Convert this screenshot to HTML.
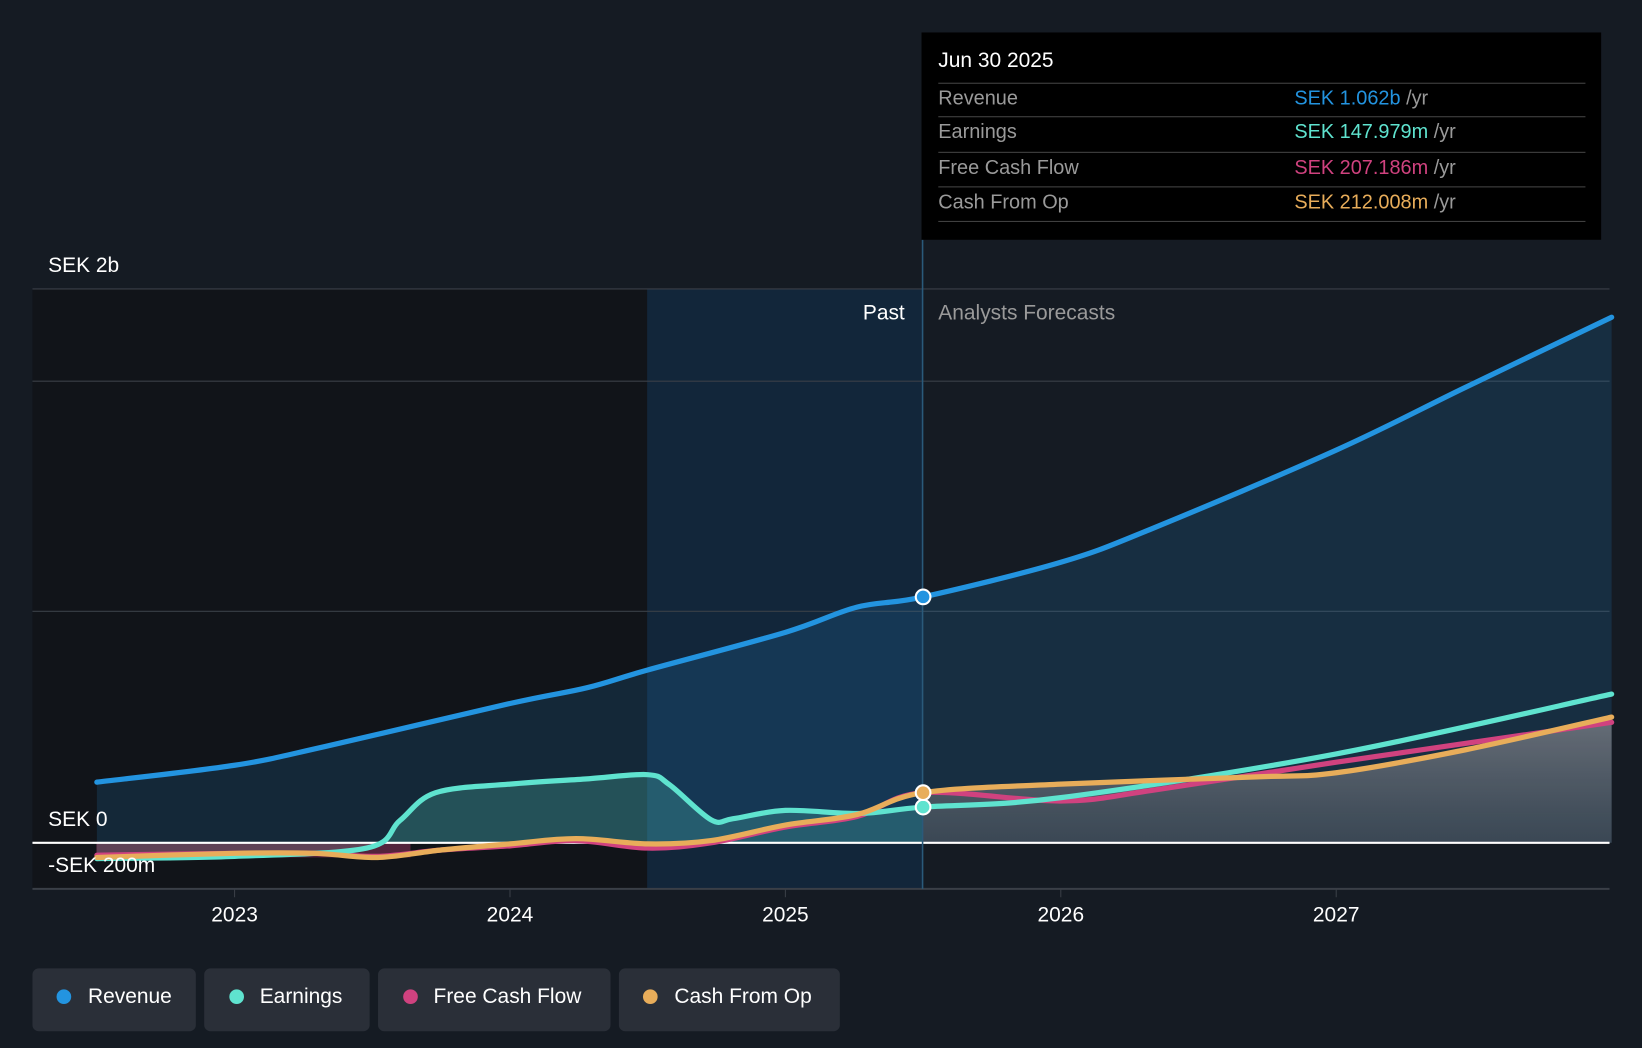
<!DOCTYPE html>
<html><head><meta charset="utf-8">
<style>
html,body{margin:0;padding:0;background:#151b23;width:1642px;height:1048px;overflow:hidden;font-family:"Liberation Sans",sans-serif}
#wrap{position:absolute;left:0;top:0;width:1568px;height:1001px;transform:scale(1.04719,1.04695);transform-origin:0 0}
.tt{position:absolute;left:880px;top:31px;width:649px;height:198px;background:#000}
.tt .row{position:absolute;left:16px;width:618px;border-top:1px solid #444;height:32px;font-size:19px;color:#9a9a9a;line-height:30px}
.tt .v{position:absolute;left:340px;top:0}
.leg{position:absolute;top:925px;height:60px;background:#2a2f38;border-radius:6px;color:#fff;font-size:20px;line-height:54px}
.leg i{position:absolute;top:20px;width:14px;height:14px;border-radius:50%}
.leg span{position:absolute;top:0}
</style></head><body>
<div id="wrap">
<svg id="chart" width="1568" height="1001" style="position:absolute;left:0;top:0"></svg>
<div class="tt">
 <div style="position:absolute;left:16px;top:16px;color:#fff;font-size:20px">Jun 30 2025</div>
 <div class="row" style="top:48px">Revenue<span class="v" style="color:#2394e0">SEK 1.062b <span style="color:#9a9a9a">/yr</span></span></div>
 <div class="row" style="top:80px">Earnings<span class="v" style="color:#5fe3cf">SEK 147.979m <span style="color:#9a9a9a">/yr</span></span></div>
 <div class="row" style="top:114px">Free Cash Flow<span class="v" style="color:#d0427f">SEK 207.186m <span style="color:#9a9a9a">/yr</span></span></div>
 <div class="row" style="top:147px;border-bottom:1px solid #444">Cash From Op<span class="v" style="color:#e8ad5a">SEK 212.008m <span style="color:#9a9a9a">/yr</span></span></div>
</div>
<div class="leg" style="left:31px;width:156px"><i style="left:23px;background:#2394e0"></i><span style="left:53px">Revenue</span></div>
<div class="leg" style="left:195px;width:158px"><i style="left:24px;background:#5fe3cf"></i><span style="left:53px">Earnings</span></div>
<div class="leg" style="left:361px;width:222px"><i style="left:24px;background:#d0427f"></i><span style="left:53px">Free Cash Flow</span></div>
<div class="leg" style="left:591px;width:211px"><i style="left:23px;background:#e8ad5a"></i><span style="left:53px">Cash From Op</span></div>
</div>
<script>
const xTicks=[2023,2024,2025,2026,2027];
const revYears=[2022.5,2023,2023.33,2024,2024.28,2024.5,2025,2025.26,2025.5,2026,2026.33,2027,2027.47,2028];
const revVals=[219,280,348,503,560,624,760,851,888,1013,1134,1418,1645,1898];
const earnYears=[2022.5,2023,2023.48,2023.6,2023.73,2024,2024.28,2024.5,2024.58,2024.73,2024.81,2025,2025.27,2025.5,2026,2027,2028];
const earnVals=[-57,-49,-19,80,181,212,231,246,209,83,87,117,106,129,163,321,537];
const fcfYears=[2022.5,2023,2023.29,2023.52,2023.75,2024,2024.24,2024.5,2024.73,2025,2025.26,2025.5,2026,2026.33,2027,2028];
const fcfVals=[-45,-38,-38,-49,-26,-11,8,-19,0,57,95,181,151,189,291,435];
const cfoYears=[2022.5,2023,2023.29,2023.52,2023.75,2024,2024.24,2024.5,2024.73,2025,2025.26,2025.5,2026,2026.71,2027,2027.47,2028];
const cfoVals=[-53,-38,-38,-53,-26,-4,15,-4,8,64,102,181,212,238,253,336,454];
const yGridVals=[2000,1667,836,0];
const NS='http://www.w3.org/2000/svg';
const svg=document.getElementById('chart');
const X=y=>224+(y-2023)*263;
const Y=v=>805-v*0.2645;
function el(t,a,p){const e=document.createElementNS(NS,t);for(const k in a)e.setAttribute(k,a[k]);(p||svg).appendChild(e);return e;}
function path(xs,vs){const p=xs.map((x,i)=>[X(x),Y(vs[i])]);let d='M'+p[0][0]+','+p[0][1];
 for(let i=0;i<p.length-1;i++){const p0=p[i-1]||p[i],p1=p[i],p2=p[i+1],p3=p[i+2]||p2;
 const c1=[p1[0]+(p2[0]-p0[0])/6,p1[1]+(p2[1]-p0[1])/6],c2=[p2[0]-(p3[0]-p1[0])/6,p2[1]-(p3[1]-p1[1])/6];
 d+=`C${c1[0]},${c1[1]} ${c2[0]},${c2[1]} ${p2[0]},${p2[1]}`;}return d;}
function area(xs,vs){return path(xs,vs)+`L${X(xs[xs.length-1])},${Y(0)}L${X(xs[0])},${Y(0)}Z`;}
const defs=el('defs',{});
const g=el('linearGradient',{id:'fg',x1:0,y1:0,x2:0,y2:1},defs);
el('stop',{offset:0,'stop-color':'#8a8a90','stop-opacity':0.7},g);el('stop',{offset:1,'stop-color':'#555a62','stop-opacity':0.5},g);
const cp=el('clipPath',{id:'pc'},defs);el('rect',{x:0,y:0,width:881,height:1001},cp);
const cf=el('clipPath',{id:'fc'},defs);el('rect',{x:881,y:0,width:700,height:1001},cf);
let r=el('rect',{x:31,y:276,width:587,height:573,fill:'#111419'});
r=el('rect',{x:618,y:276,width:263,height:573,fill:'#12263a'});
yGridVals.forEach(v=>{const l=el('line',{x1:31,x2:1537,y1:Y(v),y2:Y(v),stroke:'#3a3f47','stroke-width':1});});
let a=el('path',{d:area(revYears,revVals),fill:'rgba(35,148,224,0.16)'});
a=el('path',{d:area(earnYears,earnVals),fill:'rgba(95,227,207,0.22)','clip-path':'url(#pc)'});

a=el('path',{d:area(cfoYears,cfoVals),fill:'url(#fg)','clip-path':'url(#fc)'});
a=el('rect',{x:92,y:Y(0),width:300,height:14,fill:'rgba(208,66,127,0.35)'});
let l=el('line',{x1:31,x2:1537,y1:Y(0),y2:Y(0),stroke:'#fff','stroke-width':2});
l=el('line',{x1:31,x2:1537,y1:849,y2:849,stroke:'#3a3f47','stroke-width':2});
l=el('line',{x1:881,x2:881,y1:229,y2:849,stroke:'#2a5a7a','stroke-width':1.5});
xTicks.forEach(t=>{const k=el('line',{x1:X(t),x2:X(t),y1:849,y2:857,stroke:'#3a3f47'});
 const tx=el('text',{x:X(t),y:880,fill:'#fff','font-size':20,'text-anchor':'middle'});tx.textContent=t;});
[['fcf',fcfYears,fcfVals,'#d0427f'],['earnings',earnYears,earnVals,'#5fe3cf'],['cfo',cfoYears,cfoVals,'#e8ad5a'],['revenue',revYears,revVals,'#2394e0']].forEach(s=>{
 const p=el('path',{d:path(s[1],s[2]),fill:'none',stroke:s[3],'stroke-width':5,'stroke-linecap':'round'});});
[[revYears,revVals,'#2394e0','revenue'],[earnYears,earnVals,'#5fe3cf','earnings'],[cfoYears,cfoVals,'#e8ad5a','cfo']].forEach(s=>{
 const i=s[0].indexOf(2025.5);const c=el('circle',{cx:X(2025.5),cy:Y(s[1][i]),r:7,fill:s[2],stroke:'#fff','stroke-width':2});});
function txt(x,y,s,c,anc,n){const t=el('text',{x,y,fill:c,'font-size':20,'text-anchor':anc||'start'});t.textContent=s;}
txt(46,260,'SEK 2b','#fff','start','y-label-top');
txt(46,789,'SEK 0','#fff','start','y-label-zero');
txt(46,833,'-SEK 200m','#fff','start','y-label-bottom');
txt(864,305,'Past','#fff','end','past-label');
txt(896,305,'Analysts Forecasts','#9a9a9a','start','forecast-label');
</script>
</body></html>
